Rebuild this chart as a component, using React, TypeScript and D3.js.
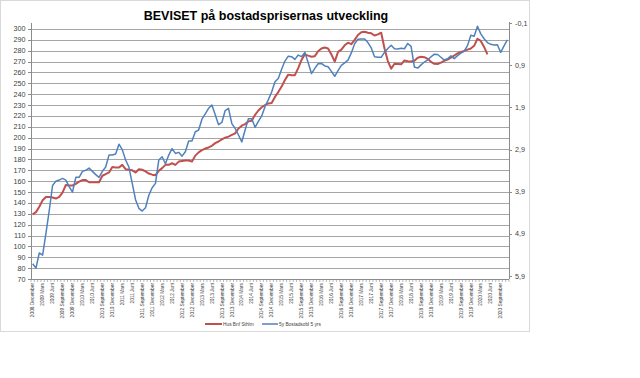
import React from "react";
import * as d3 from "d3";

const monthNames = ["Januari", "Februari", "Mars", "April", "Maj", "Juni", "Juli", "Augusti", "September", "Oktober", "November", "December"];
const startYear = 2008;
const startMonthIndex = 11; // December
const monthCount = 144;
const categories: string[] = d3.range(monthCount).map((i) => {
  const m = startMonthIndex + i;
  return `${startYear + Math.floor(m / 12)} ${monthNames[m % 12]}`;
});
const tickLabelEvery = 3;

const leftTicks = [70, 80, 90, 100, 110, 120, 130, 140, 150, 160, 170, 180, 190, 200, 210, 220, 230, 240, 250, 260, 270, 280, 290, 300];
const rightTicks = [-0.1, 0.9, 1.9, 2.9, 3.9, 4.9, 5.9];

const seriesNames = ["Hus Bnf Sthlm", "5y Bostadsobl 5 yrs"];

const husValues = [
  129.5, 131.5, 136.5, 142.5, 145.5, 145.5, 145, 144, 145.5, 149.5,
  156.5, 156, 156, 157.5, 159.5, 161, 161, 159, 159, 159,
  159, 165, 166.5, 168, 173, 172.5, 172.5, 175, 171, 170.5,
  170, 168, 171, 170.5, 169, 167, 166, 165.5, 169.5, 172,
  175, 175, 176.5, 175, 178, 178.5, 179, 179, 178, 183.5,
  186.5, 188.5, 190, 191, 192.5, 195, 196.5, 198.5, 200, 201,
  202.5, 204, 208.5, 211, 212.5, 215, 215.5, 221, 225, 228,
  230, 231.5, 232, 237.5, 242, 247, 253, 258, 257.5, 257.5,
  264, 271.5, 276.7, 275.5, 274.5, 275, 279.5, 282, 283, 282,
  276.5, 270, 279, 281, 285, 287.4, 286, 290, 294.5, 297,
  297.5, 296.6, 296, 294, 295, 296.6, 282, 270.5, 263.5, 268,
  267.8, 267.5, 271, 270.3, 270, 270.8, 273.5, 274.4, 274.1, 272.5,
  269.8, 268, 267.8, 269, 270.7, 271.8, 273.6, 275.6, 277.6, 278.8,
  279.8, 281, 282, 284.5, 291, 289, 283.5, 276.7,
];

const obligValues = [
  84, 80, 94, 92, 112, 133, 156, 160, 161, 162.5,
  161, 155, 150, 163.5, 163.5, 169, 170, 172, 169, 166,
  163.5, 169, 173, 184, 184, 185, 194, 189, 179.5, 173,
  158, 143, 135, 132.5, 135.5, 147, 154, 158, 179.5, 182.5,
  176, 184, 190, 185.5, 186.5, 183, 187, 197, 197, 205.5,
  207, 217, 222, 227, 230, 221, 212, 214, 225, 227,
  213, 208.5, 202.5, 196, 207, 217.5, 217.5, 209.5, 215, 220,
  228.5, 235, 242, 251.5, 254.5, 263, 270.5, 275, 274.5, 272,
  276, 274.5, 278.5, 269, 259, 263.7, 268, 268.3, 266, 265.3,
  261, 256.5, 261.7, 266.5, 268.8, 271.3, 278, 286.4, 290.5, 290.8,
  290.8, 287.5, 282.6, 274.5, 274, 274, 278.5, 282, 285, 281.8,
  281.6, 282.2, 281.8, 286.7, 284, 265, 264, 267, 269.6, 271.5,
  274.4, 276.8, 276.5, 274, 271.4, 272.6, 275.3, 272.7, 275.5, 277.8,
  279.6, 284.7, 294.2, 293.3, 302.5, 295.5, 291, 287.5, 285.9, 285.3,
  285.5, 278.5, 284.5, 290,
];

const W = 640;
const H = 378;
const plot = { left: 31, right: 509, top: 23, bottom: 279 };

export default function App() {
  const x = d3.scaleBand<string>().domain(categories).range([plot.left, plot.right]).padding(0);
  const yL = d3.scaleLinear().domain([70, 305.5]).range([plot.bottom, plot.top]);
  const yR = d3.scaleLinear().domain([-0.1, 5.97]).range([plot.top, plot.bottom]);
  const cx = (i: number) => (x(categories[i]) as number) + x.bandwidth() / 2;

  const line = d3
    .line<number>()
    .x((_, i) => cx(i))
    .y((d) => yL(d));

  const fmtR = (v: number) => v.toFixed(1).replace(".", ",");
  const gridColor = "#a5a5a5";
  const axisColor = "#8c8c8c";
  const textColor = "#404040";
  const font = "'Liberation Sans', Arial, sans-serif";

  const boundaries = d3.range(monthCount + 1).map((i) => plot.left + i * x.step());

  return (
    <svg width={W} height={H} style={{ position: "absolute", left: 0, top: 0, background: "#fff" }} fontFamily={font}>
      <rect x={0.5} y={0.5} width={529} height={331} fill="#fff" stroke="#d9d9d9" />
      <text x={266} y={19.5} textAnchor="middle" fontSize={12.5} fontWeight="bold" fill="#000">
        BEVISET på bostadsprisernas utveckling
      </text>

      {leftTicks.filter((t) => t > 70).map((t) => (
        <line key={"g" + t} x1={plot.left} x2={plot.right} y1={Math.round(yL(t)) + 0.5} y2={Math.round(yL(t)) + 0.5} stroke={gridColor} strokeWidth={1} />
      ))}

      <line x1={plot.left + 0.5} x2={plot.left + 0.5} y1={plot.top} y2={plot.bottom} stroke={axisColor} />
      {leftTicks.map((t) => (
        <g key={"l" + t}>
          <line x1={plot.left - 3} x2={plot.left} y1={Math.round(yL(t)) + 0.5} y2={Math.round(yL(t)) + 0.5} stroke={axisColor} />
          <text x={25.5} y={yL(t)} dy="0.35em" textAnchor="end" fontSize={7.2} fill={textColor}>
            {t}
          </text>
        </g>
      ))}

      <line x1={plot.right + 0.5} x2={plot.right + 0.5} y1={plot.top - 1} y2={plot.bottom} stroke={axisColor} />
      {rightTicks.map((t) => (
        <g key={"r" + t}>
          <line x1={plot.right} x2={plot.right + 3} y1={Math.round(yR(t)) + 0.5} y2={Math.round(yR(t)) + 0.5} stroke={axisColor} />
          <text x={515} y={yR(t)} dy="0.35em" textAnchor="start" fontSize={7.2} fill={textColor}>
            {fmtR(t)}
          </text>
        </g>
      ))}

      <line x1={plot.left} x2={plot.right} y1={plot.bottom + 0.5} y2={plot.bottom + 0.5} stroke={axisColor} />
      {boundaries.map((bx, i) => (
        <line key={"t" + i} x1={bx} x2={bx} y1={plot.bottom} y2={plot.bottom + 3} stroke={axisColor} strokeWidth={0.6} />
      ))}
      {categories.map((c, i) =>
        i % tickLabelEvery === 0 ? (
          <text
            key={"c" + i}
            transform={`translate(${cx(i) + 1.7},${plot.bottom + 4}) rotate(-90)`}
            textAnchor="end"
            fontSize={4.8}
            fill={textColor}
          >
            {c}
          </text>
        ) : null
      )}

      <path d={line(husValues) || ""} fill="none" stroke="#c0504d" strokeWidth={2} strokeLinejoin="round" />
      <path d={line(obligValues) || ""} fill="none" stroke="#4f81bd" strokeWidth={1.5} strokeLinejoin="round" />

      <g>
        <line x1={205} x2={222} y1={324} y2={324} stroke="#c0504d" strokeWidth={2} />
        <text x={223} y={324} dy="0.35em" fontSize={4.8} fill={textColor}>
          {seriesNames[0]}
        </text>
        <line x1={262} x2={278} y1={324} y2={324} stroke="#4f81bd" strokeWidth={1.5} />
        <text x={279} y={324} dy="0.35em" fontSize={4.8} fill={textColor}>
          {seriesNames[1]}
        </text>
      </g>
    </svg>
  );
}
